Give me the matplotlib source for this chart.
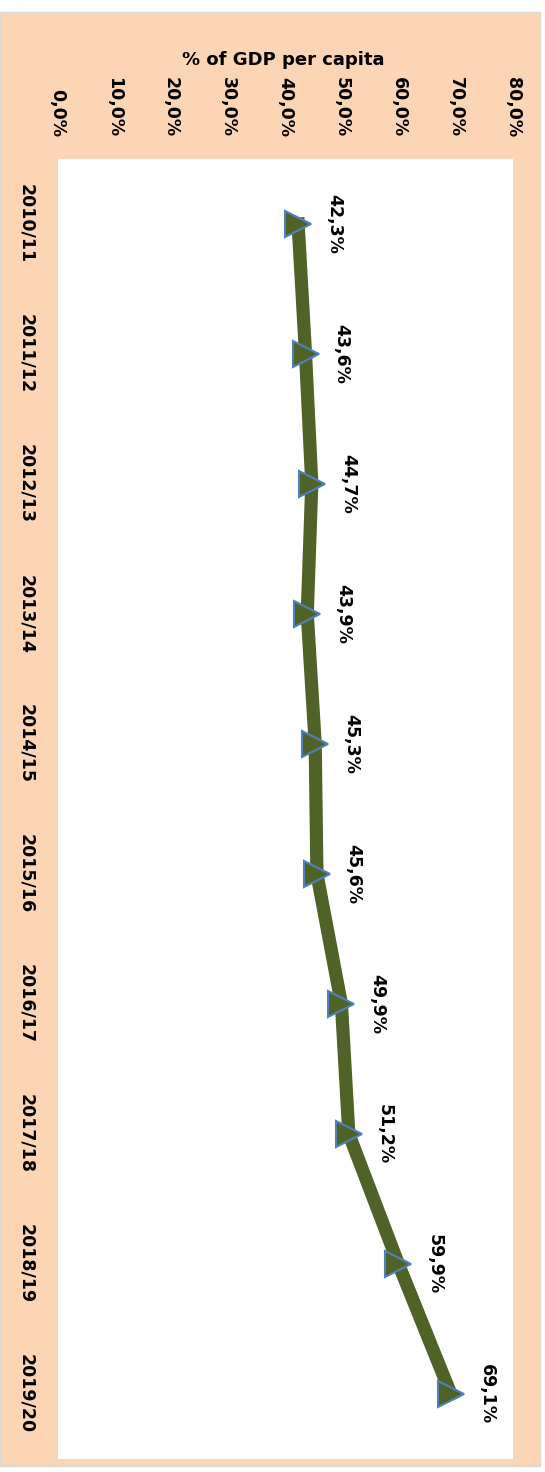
import matplotlib.pyplot as plt
from matplotlib.patches import Rectangle

# ---------------------------- data ----------------------------
years = ["2010/11", "2011/12", "2012/13", "2013/14", "2014/15",
         "2015/16", "2016/17", "2017/18", "2018/19", "2019/20"]
share = [42.3, 43.6, 44.7, 43.9, 45.3, 45.6, 49.9, 51.2, 59.9, 69.1]
ticks = [0, 10, 20, 30, 40, 50, 60, 70, 80]
tick_labels = ["0,0%", "10,0%", "20,0%", "30,0%", "40,0%",
               "50,0%", "60,0%", "70,0%", "80,0%"]

W, H = 545, 1472
peach = "#FCD5B5"
olive = "#4F6228"

fig = plt.figure(figsize=(W / 100, H / 100), dpi=100)
fig.patches.append(Rectangle((0, 6 / H), 540 / W, 1454 / H, transform=fig.transFigure,
                             facecolor=peach, edgecolor="#D9D9D9", lw=1, zorder=-10))

ax = fig.add_axes([57 / W, 13 / H, 456 / W, 1300 / H])
ax.set_zorder(5)
ax.set_facecolor("white")

pos = list(range(len(years)))
ax.plot(share, pos, color=olive, lw=9.5, marker=">", ms=19,
        mfc=olive, mec="#4F81BD", mew=1.5, solid_joinstyle="round")

for v, p in zip(share, pos):
    ax.annotate(f"{v:.1f}".replace(".", ",") + "%", (v, p), xytext=(26, 0),
                textcoords="offset points", rotation=-90, ha="center", va="center",
                fontsize=12.5, fontweight="bold")

ax.set_xlim(0, 80)
ax.set_ylim(len(years) - 0.5, -0.5)

ax.xaxis.tick_top()
ax.set_xticks(ticks, tick_labels, rotation=-90, fontsize=12.5, fontweight="bold")
ax.tick_params(axis="x", length=0, pad=16)
ax.set_yticks(pos, years, rotation=-90, fontsize=12.5, fontweight="bold", va="center")
ax.tick_params(axis="y", length=0, pad=16)

for s in ["top", "right", "bottom"]:
    ax.spines[s].set_visible(False)
ax.spines["left"].set_color("#D9D9D9")

fig.text(283 / W, 1 - 60 / H, "% of GDP per capita", ha="center", va="center",
         fontsize=13, fontweight="bold")

fig.savefig("out.png", dpi=100, facecolor="white")
